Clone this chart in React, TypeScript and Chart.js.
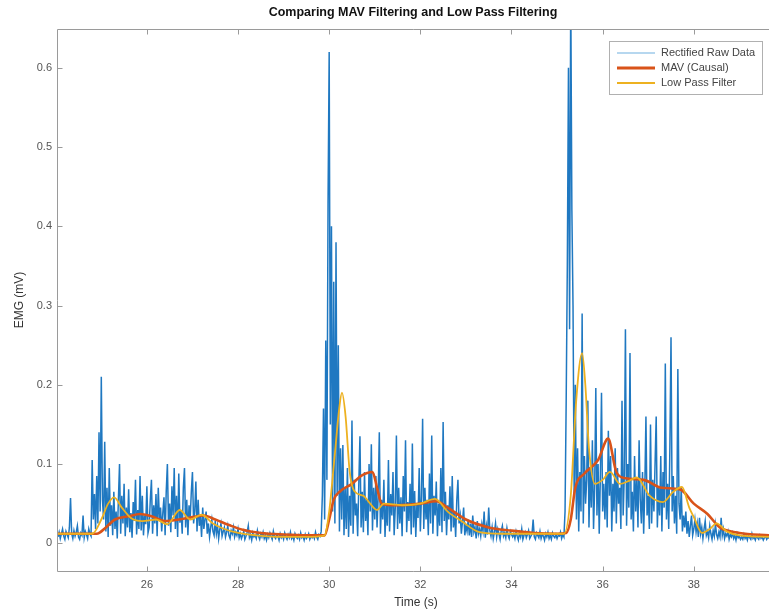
import React, { useEffect, useRef } from 'react';
import { Chart, registerables } from 'chart.js';

Chart.register(...registerables);

const TITLE = 'Comparing MAV Filtering and Low Pass Filtering';
const X_LABEL = 'Time (s)';
const Y_LABEL = 'EMG (mV)';
const LEGEND_LABELS = ['Rectified Raw Data', 'MAV (Causal)', 'Low Pass Filter'];
const COLORS = ['#1f78c1', '#d95319', '#edb120'];

const X_TICKS = [26, 28, 30, 32, 34, 36, 38];
const X_TICK_LABELS = ['26', '28', '30', '32', '34', '36', '38'];
const Y_TICKS = [0, 0.1, 0.2, 0.3, 0.4, 0.5, 0.6];
const Y_TICK_LABELS = ['0', '0.1', '0.2', '0.3', '0.4', '0.5', '0.6'];
const X_MIN = 24.05;
const X_MAX = 39.65;
const Y_MIN = -0.035;
const Y_MAX = 0.649;

// Rectified raw EMG, microvolts, one sample every 0.025 s from 24.05 s
const RAW_START = 24.05;
const RAW_STEP = 0.025;
const rawUV = [
  8, 14, 6, 12, 18, 9, 5, 15, 11, 7, 20, 57, 12, 6, 16, 9, 14, 22, 8, 5, 13, 10, 35, 7, 15, 11, 6, 18, 12, 9, 105, 30, 62, 18, 85, 25, 140, 40, 210, 55,
  30, 128, 15, 70, 8, 95, 22, 48, 10, 65, 18, 40, 6, 55, 100, 12, 60, 25, 75, 9, 45, 20, 68, 14, 38, 7, 52, 28, 80, 11, 42, 18, 85, 16, 60, 10, 35, 24, 72, 13,
  20, 55, 80, 12, 48, 25, 62, 9, 70, 30, 45, 15, 38, 58, 10, 66, 100, 22, 50, 14, 72, 35, 95, 18, 60, 8, 88, 26, 42, 12, 70, 95, 20, 55, 10, 48, 30, 65, 90, 25,
  40, 78, 15, 55, 22, 35, 8, 45, 18, 30, 40, 12, 25, 8, 20, 30, 15, 10, 28, 12, 22, 6, 18, 25, 9, 15, 20, 8, 14, 22, 10, 6, 16, 12, 20, 8, 14, 10, 18, 7,
  12, 6, 10, 15, 5, 9, 14, 22, 7, 11, 4, 13, 8, 10, 6, 16, 9, 5, 12, 8, 14, 6, 10, 4, 11, 7, 13, 9, 5, 15, 8, 6, 11, 9, 4, 12, 7, 10, 5, 13,
  8, 5, 11, 7, 14, 6, 9, 4, 12, 8, 6, 10, 5, 13, 7, 9, 4, 11, 6, 8, 12, 5, 9, 7, 10, 6, 14, 8, 5, 11, 9, 15, 60, 170, 30, 256, 80, 430, 620, 150,
  400, 40, 330, 25, 380, 60, 250, 15, 120, 30, 124, 10, 70, 18, 95, 8, 60, 22, 155, 12, 80, 35, 50, 9, 75, 135, 20, 65, 14, 90, 28, 55, 10, 100, 40, 125, 16, 70, 30, 85,
  20, 60, 140, 12, 55, 30, 80, 8, 48, 22, 105, 15, 62, 35, 90, 10, 45, 136, 18, 70, 25, 58, 9, 85, 40, 130, 14, 52, 28, 75, 11, 126, 20, 66, 8, 50, 32, 95, 15, 60,
  157, 18, 70, 30, 55, 10, 88, 25, 136, 12, 60, 35, 78, 9, 50, 22, 95, 14, 153, 28, 65, 10, 48, 30, 72, 15, 85, 20, 40, 8, 55, 80, 25, 35, 12, 28, 45, 10, 22, 15,
  30, 10, 25, 8, 35, 14, 20, 6, 28, 12, 18, 9, 24, 15, 40, 7, 22, 11, 45, 16, 9, 20, 6, 14, 25, 8, 18, 12, 5, 16, 22, 9, 13, 7, 19, 10, 6, 15, 11, 8,
  12, 6, 15, 9, 4, 13, 8, 18, 5, 10, 14, 7, 11, 16, 6, 9, 12, 30, 8, 5, 13, 10, 7, 15, 6, 11, 9, 4, 12, 8, 14, 6, 10, 5, 13, 9, 7, 11, 6, 10,
  9, 14, 6, 11, 8, 40, 180, 350, 600, 270, 700, 420, 300, 60, 200, 30, 120, 15, 90, 40, 290, 25, 110, 50, 80, 180, 20, 95, 45, 130, 18, 70, 196, 35, 100, 12, 85, 190, 40, 75,
  30, 90, 20, 142, 60, 110, 15, 75, 40, 120, 25, 95, 50, 70, 18, 180, 35, 85, 270, 22, 100, 45, 240, 30, 65, 15, 110, 40, 80, 20, 130, 55, 25, 90, 12, 70, 160, 35, 60, 18,
  150, 25, 80, 40, 100, 160, 20, 70, 35, 110, 15, 90, 45, 227, 30, 75, 18, 120, 260, 40, 85, 25, 60, 12, 220, 50, 30, 70, 15, 35, 20, 40, 12, 28, 8, 22, 35, 10, 18, 30,
  14, 25, 8, 32, 12, 20, 6, 18, 28, 10, 15, 7, 22, 12, 5, 16, 9, 24, 11, 6, 14, 8, 32, 10, 18, 6, 12, 9, 15, 5, 11, 8, 13, 6, 10, 4, 12, 7, 9, 5,
  8, 5, 11, 6, 9, 4, 10, 7, 5, 12, 6, 8, 4, 9, 7, 5, 10, 6, 8, 4, 7, 9, 5, 8, 6,
];

// MAV (causal) curve, knots
const mavT = [24.05, 24.9, 25.1, 25.3, 25.6, 25.85, 26.1, 26.4, 26.7, 27.0, 27.25, 27.5, 27.8, 28.1, 28.5, 29.0, 29.5, 29.9, 30.0, 30.1, 30.25, 30.5, 30.7, 30.95, 31.05, 31.15, 31.5, 32.0, 32.35, 32.6, 33.0, 33.5, 34.0, 34.5, 35.0, 35.2, 35.3, 35.4, 35.6, 35.9, 36.12, 36.3, 36.5, 36.9, 37.3, 37.7, 38.0, 38.3, 38.57, 39.0, 39.65];
const mavV = [0.012, 0.012, 0.02, 0.03, 0.034, 0.037, 0.034, 0.028, 0.03, 0.033, 0.035, 0.03, 0.023, 0.017, 0.013, 0.011, 0.01, 0.01, 0.03, 0.055, 0.066, 0.075, 0.085, 0.09, 0.07, 0.05, 0.048, 0.05, 0.053, 0.045, 0.03, 0.02, 0.016, 0.013, 0.012, 0.013, 0.03, 0.07, 0.088, 0.105, 0.132, 0.09, 0.082, 0.08, 0.07, 0.068, 0.05, 0.037, 0.02, 0.013, 0.01];

// Low pass filter curve
const lpT = [24.05, 24.8, 25.0, 25.15, 25.28, 25.45, 25.65, 25.9, 26.2, 26.45, 26.72, 26.95, 27.2, 27.45, 27.7, 28.0, 28.4, 29.0, 29.5, 29.9, 30.0, 30.12, 30.22, 30.28, 30.36, 30.45, 30.55, 30.75, 30.9, 31.05, 31.2, 31.6, 32.0, 32.32, 32.6, 32.9, 33.3, 33.8, 34.5, 35.15, 35.3, 35.42, 35.55, 35.62, 35.7, 35.83, 36.0, 36.16, 36.38, 36.55, 36.75, 37.03, 37.32, 37.55, 37.74, 37.9, 38.0, 38.18, 38.35, 38.5, 38.72, 39.0, 39.65];
const lpV = [0.012, 0.012, 0.03, 0.05, 0.058, 0.045, 0.032, 0.028, 0.03, 0.024, 0.042, 0.03, 0.036, 0.025, 0.018, 0.013, 0.01, 0.008, 0.008, 0.01, 0.04, 0.11, 0.17, 0.19, 0.16, 0.09, 0.066, 0.06, 0.05, 0.042, 0.05, 0.048, 0.05, 0.056, 0.04, 0.028, 0.014, 0.012, 0.012, 0.012, 0.06, 0.18, 0.24, 0.2, 0.12, 0.075, 0.08, 0.09, 0.075, 0.078, 0.083, 0.06, 0.052, 0.065, 0.071, 0.045, 0.033, 0.013, 0.018, 0.025, 0.015, 0.01, 0.008];

const FONT = '"Liberation Sans", Arial, Helvetica, sans-serif';

const framePlugin = {
  id: 'matlabFrame',
  afterDraw(chart: any) {
    const { ctx, chartArea: a, scales } = chart;
    const xs = scales.x;
    const ys = scales.y;
    ctx.save();
    ctx.strokeStyle = '#9a9a9a';
    ctx.lineWidth = 1;
    ctx.beginPath();
    const L = Math.round(a.left) - 0.5;
    const T = Math.round(a.top) + 0.5;
    const B = Math.round(a.bottom) + 0.5;
    ctx.moveTo(L, T);
    ctx.lineTo(L, B);
    ctx.moveTo(L, B);
    ctx.lineTo(a.right + 2, B);
    ctx.moveTo(L, T);
    ctx.lineTo(a.right + 2, T);
    X_TICKS.forEach((v) => {
      const px = Math.round(xs.getPixelForValue(v)) + 0.5;
      ctx.moveTo(px, B);
      ctx.lineTo(px, B - 5);
      ctx.moveTo(px, T);
      ctx.lineTo(px, T + 5);
    });
    Y_TICKS.forEach((v) => {
      const py = Math.round(ys.getPixelForValue(v)) + 0.5;
      ctx.moveTo(L, py);
      ctx.lineTo(L + 5, py);
    });
    ctx.stroke();

    // title
    ctx.fillStyle = '#111';
    ctx.font = 'bold 12.5px ' + FONT;
    ctx.textAlign = 'center';
    ctx.textBaseline = 'middle';
    ctx.fillText(TITLE, 413, 13);

    // axis labels
    ctx.fillStyle = '#333';
    ctx.font = '12px ' + FONT;
    ctx.fillText(X_LABEL, 416, 603);
    ctx.save();
    ctx.translate(20, (a.top + a.bottom) / 2);
    ctx.rotate(-Math.PI / 2);
    ctx.fillText(Y_LABEL, 0, 0);
    ctx.restore();

    // legend
    const lx = 609.5, ly = 41.5, lw = 153, lh = 53;
    ctx.fillStyle = '#ffffff';
    ctx.fillRect(lx, ly, lw, lh);
    ctx.strokeStyle = '#b0b0b0';
    ctx.strokeRect(lx, ly, lw, lh);
    const widths = [1.2, 3, 2];
    ctx.font = '11px ' + FONT;
    ctx.textAlign = 'left';
    ctx.textBaseline = 'middle';
    LEGEND_LABELS.forEach((lab, i) => {
      const y = 53 + i * 15;
      ctx.strokeStyle = i === 0 ? '#6fb0e0' : COLORS[i];
      ctx.lineWidth = widths[i];
      ctx.beginPath();
      ctx.moveTo(617, y);
      ctx.lineTo(655, y);
      ctx.stroke();
      ctx.fillStyle = '#444';
      ctx.fillText(lab, 661, y);
    });
    ctx.restore();
  },
};

export default function App() {
  const ref = useRef<HTMLCanvasElement | null>(null);
  useEffect(() => {
    if (!ref.current) return;
    const raw = rawUV.map((v, i) => ({ x: RAW_START + i * RAW_STEP, y: v / 1000 }));
    const mav = mavT.map((t, i) => ({ x: t, y: mavV[i] }));
    const lp = lpT.map((t, i) => ({ x: t, y: lpV[i] }));
    const chart = new Chart(ref.current, {
      type: 'line',
      data: {
        datasets: [
          { label: LEGEND_LABELS[0], data: raw, borderColor: COLORS[0], borderWidth: 1.5, pointRadius: 0, tension: 0, order: 3 },
          { label: LEGEND_LABELS[1], data: mav, borderColor: COLORS[1], borderWidth: 2.6, pointRadius: 0, cubicInterpolationMode: 'monotone', order: 2 },
          { label: LEGEND_LABELS[2], data: lp, borderColor: COLORS[2], borderWidth: 1.8, pointRadius: 0, cubicInterpolationMode: 'monotone', order: 1 },
        ],
      },
      options: {
        animation: false,
        responsive: false,
        devicePixelRatio: 1,
        layout: { padding: { top: 29, left: 0, right: 0, bottom: 0 } },
        plugins: { legend: { display: false }, title: { display: false }, tooltip: { enabled: false } },
        events: [],
        scales: {
          x: {
            type: 'linear',
            min: X_MIN,
            max: X_MAX,
            grid: { display: false, drawTicks: false },
            border: { display: false },
            ticks: {
              padding: 7,
              color: '#555',
              font: { family: FONT, size: 11 },
              maxRotation: 0,
              autoSkip: false,
              callback: (_v: any, i: number) => X_TICK_LABELS[i],
            },
            afterBuildTicks: (s: any) => { s.ticks = X_TICKS.map((v) => ({ value: v })); },
            afterFit: (s: any) => { s.height = 41; },
          },
          y: {
            type: 'linear',
            min: Y_MIN,
            max: Y_MAX,
            grid: { display: false, drawTicks: false },
            border: { display: false },
            ticks: {
              padding: 6,
              color: '#555',
              font: { family: FONT, size: 11 },
              callback: (_v: any, i: number) => Y_TICK_LABELS[i],
            },
            afterBuildTicks: (s: any) => { s.ticks = Y_TICKS.map((v) => ({ value: v })); },
            afterFit: (s: any) => { s.width = 58; },
          },
        },
      },
      plugins: [framePlugin],
    } as any);
    return () => chart.destroy();
  }, []);
  return (
    <div style={{ position: 'fixed', left: 0, top: 0, width: 769, height: 612, background: '#fff' }}>
      <canvas ref={ref} width={769} height={612} style={{ width: 769, height: 612, display: 'block' }} />
    </div>
  );
}
